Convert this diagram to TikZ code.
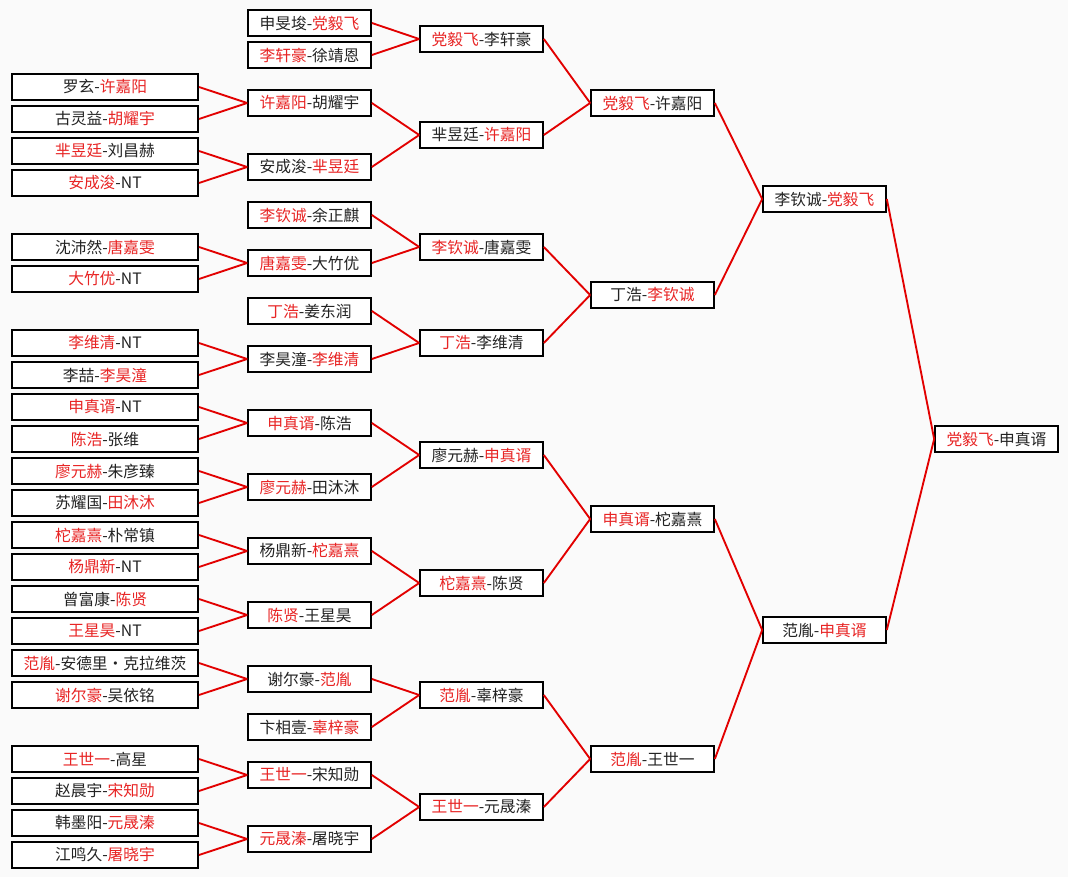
\documentclass[tikz,border=0pt]{standalone}
\usepackage{fontspec}
\setmainfont{Noto Sans CJK SC}
\definecolor{winred}{RGB}{232,36,36}
\definecolor{linered}{RGB}{226,0,0}
\definecolor{namegray}{RGB}{35,35,35}
\definecolor{paper}{RGB}{250,250,250}
\newcommand{\win}[1]{\textcolor{winred}{#1}}

\begin{document}
\begin{tikzpicture}
[x=0.75pt,y=-0.75pt,
 every node/.style={draw=black,line width=1.5pt,fill=white,text=namegray,
   font=\fontsize{11.8}{13}\selectfont,inner sep=0pt,minimum height=19pt,minimum width=92pt},
 wide/.style={minimum width=139.5pt},
 edge/.style={draw=linered,line width=1.4pt}]
\fill[paper] (0,0) rectangle (1068,877);
\useasboundingbox (0,0) rectangle (1068,877);
% first round
\node[wide] (a1) at (105,87) {罗玄-\win{许嘉阳}};
\node[wide] (a2) at (105,119) {古灵益-\win{胡耀宇}};
\node[wide] (a3) at (105,151) {\win{芈昱廷}-刘昌赫};
\node[wide] (a4) at (105,183) {\win{安成浚}-NT};
\node[wide] (a5) at (105,247) {沈沛然-\win{唐嘉雯}};
\node[wide] (a6) at (105,279) {\win{大竹优}-NT};
\node[wide] (a7) at (105,343) {\win{李维清}-NT};
\node[wide] (a8) at (105,375) {李喆-\win{李昊潼}};
\node[wide] (a9) at (105,407) {\win{申真谞}-NT};
\node[wide] (a10) at (105,439) {\win{陈浩}-张维};
\node[wide] (a11) at (105,471) {\win{廖元赫}-朱彦臻};
\node[wide] (a12) at (105,503) {苏耀国-\win{田沐沐}};
\node[wide] (a13) at (105,535) {\win{柁嘉熹}-朴常镇};
\node[wide] (a14) at (105,567) {\win{杨鼎新}-NT};
\node[wide] (a15) at (105,599) {曾富康-\win{陈贤}};
\node[wide] (a16) at (105,631) {\win{王星昊}-NT};
\node[wide] (a17) at (105,663) {\win{范胤}-安德里・克拉维茨};
\node[wide] (a18) at (105,695) {\win{谢尔豪}-吴依铭};
\node[wide] (a19) at (105,759) {\win{王世一}-高星};
\node[wide] (a20) at (105,791) {赵晨宇-\win{宋知勋}};
\node[wide] (a21) at (105,823) {韩墨阳-\win{元晟溱}};
\node[wide] (a22) at (105,855) {江鸣久-\win{屠晓宇}};
% second round
\node (b1) at (309.5,23) {申旻埈-\win{党毅飞}};
\node (b2) at (309.5,55) {\win{李轩豪}-徐靖恩};
\node (b3) at (309.5,103) {\win{许嘉阳}-胡耀宇};
\node (b4) at (309.5,167) {安成浚-\win{芈昱廷}};
\node (b5) at (309.5,215) {\win{李钦诚}-余正麒};
\node (b6) at (309.5,263) {\win{唐嘉雯}-大竹优};
\node (b7) at (309.5,311) {\win{丁浩}-姜东润};
\node (b8) at (309.5,359) {李昊潼-\win{李维清}};
\node (b9) at (309.5,423) {\win{申真谞}-陈浩};
\node (b10) at (309.5,487) {\win{廖元赫}-田沐沐};
\node (b11) at (309.5,551) {杨鼎新-\win{柁嘉熹}};
\node (b12) at (309.5,615) {\win{陈贤}-王星昊};
\node (b13) at (309.5,679) {谢尔豪-\win{范胤}};
\node (b14) at (309.5,727) {卞相壹-\win{辜梓豪}};
\node (b15) at (309.5,775) {\win{王世一}-宋知勋};
\node (b16) at (309.5,839) {\win{元晟溱}-屠晓宇};
% third round
\node (c1) at (481.5,39) {\win{党毅飞}-李轩豪};
\node (c2) at (481.5,135) {芈昱廷-\win{许嘉阳}};
\node (c3) at (481.5,247) {\win{李钦诚}-唐嘉雯};
\node (c4) at (481.5,343) {\win{丁浩}-李维清};
\node (c5) at (481.5,455) {廖元赫-\win{申真谞}};
\node (c6) at (481.5,583) {\win{柁嘉熹}-陈贤};
\node (c7) at (481.5,695) {\win{范胤}-辜梓豪};
\node (c8) at (481.5,807) {\win{王世一}-元晟溱};
% quarter finals
\node (d1) at (652.5,103) {\win{党毅飞}-许嘉阳};
\node (d2) at (652.5,295) {丁浩-\win{李钦诚}};
\node (d3) at (652.5,519) {\win{申真谞}-柁嘉熹};
\node (d4) at (652.5,759) {\win{范胤}-王世一};
% semi finals and final
\node (e1) at (824.5,199) {李钦诚-\win{党毅飞}};
\node (e2) at (824.5,630) {范胤-\win{申真谞}};
\node (f) at (996.5,439) {\win{党毅飞}-申真谞};
% connectors
\draw[edge] (a1.east) -- (b3.west);
\draw[edge] (a2.east) -- (b3.west);
\draw[edge] (a3.east) -- (b4.west);
\draw[edge] (a4.east) -- (b4.west);
\draw[edge] (a5.east) -- (b6.west);
\draw[edge] (a6.east) -- (b6.west);
\draw[edge] (a7.east) -- (b8.west);
\draw[edge] (a8.east) -- (b8.west);
\draw[edge] (a9.east) -- (b9.west);
\draw[edge] (a10.east) -- (b9.west);
\draw[edge] (a11.east) -- (b10.west);
\draw[edge] (a12.east) -- (b10.west);
\draw[edge] (a13.east) -- (b11.west);
\draw[edge] (a14.east) -- (b11.west);
\draw[edge] (a15.east) -- (b12.west);
\draw[edge] (a16.east) -- (b12.west);
\draw[edge] (a17.east) -- (b13.west);
\draw[edge] (a18.east) -- (b13.west);
\draw[edge] (a19.east) -- (b15.west);
\draw[edge] (a20.east) -- (b15.west);
\draw[edge] (a21.east) -- (b16.west);
\draw[edge] (a22.east) -- (b16.west);
\draw[edge] (b1.east) -- (c1.west);
\draw[edge] (b2.east) -- (c1.west);
\draw[edge] (b3.east) -- (c2.west);
\draw[edge] (b4.east) -- (c2.west);
\draw[edge] (b5.east) -- (c3.west);
\draw[edge] (b6.east) -- (c3.west);
\draw[edge] (b7.east) -- (c4.west);
\draw[edge] (b8.east) -- (c4.west);
\draw[edge] (b9.east) -- (c5.west);
\draw[edge] (b10.east) -- (c5.west);
\draw[edge] (b11.east) -- (c6.west);
\draw[edge] (b12.east) -- (c6.west);
\draw[edge] (b13.east) -- (c7.west);
\draw[edge] (b14.east) -- (c7.west);
\draw[edge] (b15.east) -- (c8.west);
\draw[edge] (b16.east) -- (c8.west);
\draw[edge] (c1.east) -- (d1.west);
\draw[edge] (c2.east) -- (d1.west);
\draw[edge] (c3.east) -- (d2.west);
\draw[edge] (c4.east) -- (d2.west);
\draw[edge] (c5.east) -- (d3.west);
\draw[edge] (c6.east) -- (d3.west);
\draw[edge] (c7.east) -- (d4.west);
\draw[edge] (c8.east) -- (d4.west);
\draw[edge] (d1.east) -- (e1.west);
\draw[edge] (d2.east) -- (e1.west);
\draw[edge] (d3.east) -- (e2.west);
\draw[edge] (d4.east) -- (e2.west);
\draw[edge] (e1.east) -- (f.west);
\draw[edge] (e2.east) -- (f.west);
\end{tikzpicture}
\end{document}
